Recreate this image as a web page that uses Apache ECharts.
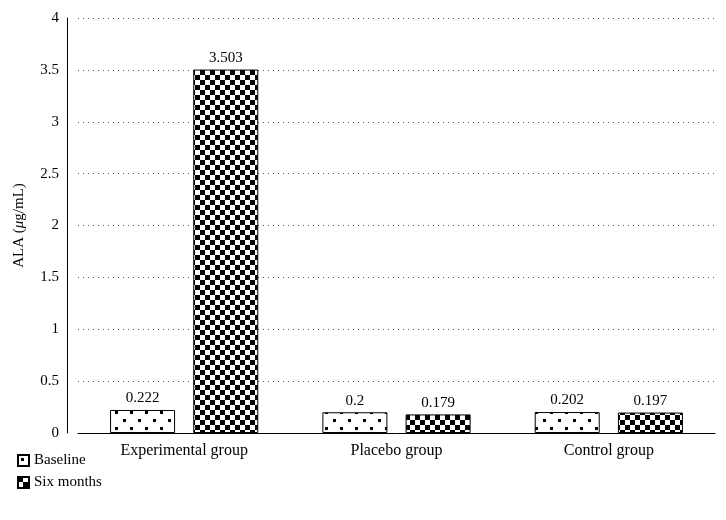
<!DOCTYPE html>
<html><head><meta charset="utf-8">
<script src="https://cdn.jsdelivr.net/npm/echarts@6/dist/echarts.min.js"></script>
<style>body{margin:0}#c{width:726px;height:520px}</style></head>
<body><div id="c"></div>
<script>
var categories = ['Experimental group', 'Placebo group', 'Control group'];
var baseline = [0.222, 0.2, 0.202];
var sixMonths = [3.503, 0.179, 0.197];

function dots() {
    var c = document.createElement('canvas'); c.width = 30; c.height = 16;
    var g = c.getContext('2d');
    g.fillStyle = '#fff'; g.fillRect(0, 0, 30, 16);
    g.fillStyle = '#000';
    g.fillRect(3, 3, 3, 3); g.fillRect(18, 3, 3, 3);
    g.fillRect(10, 11, 3, 3); g.fillRect(25, 11, 3, 3);
    return c;
}
function checker() {
    var c = document.createElement('canvas'); c.width = 10; c.height = 10;
    var g = c.getContext('2d');
    g.fillStyle = '#fff'; g.fillRect(0, 0, 10, 10);
    g.fillStyle = '#000'; g.fillRect(0, 0, 5, 5); g.fillRect(5, 5, 5, 5);
    return c;
}
var font = 'Liberation Serif';
var myChart = echarts.init(document.getElementById('c'));
var lbl = {show: true, position: 'top', color: '#000', fontFamily: font, fontSize: 15, distance: 4};
var option = {
    animation: false,
    backgroundColor: '#fff',
    textStyle: {fontFamily: font},
    grid: {left: 78, right: 11, top: 18, bottom: 87},
    legend: {
        orient: 'vertical', left: 12, top: 448, itemWidth: 11, itemHeight: 11, itemGap: 7,
        icon: 'rect', textStyle: {fontFamily: font, fontSize: 15, color: '#000'},
        data: ['Baseline', 'Six months']
    },
    xAxis: {
        type: 'category', data: categories,
        axisLine: {lineStyle: {color: '#000'}}, axisTick: {show: false},
        axisLabel: {color: '#000', fontSize: 16, fontFamily: font, margin: 10}
    },
    yAxis: {
        type: 'value', min: 0, max: 4, interval: 0.5, offset: 11,
        name: '{a|ALA (}{b|μ}{a|g/mL)}', nameLocation: 'middle', nameGap: 40, nameRotate: 90,
        nameTextStyle: {rich: {a: {fontFamily: font, fontSize: 15, color: '#000'}, b: {fontFamily: font, fontSize: 15, fontStyle: 'italic', color: '#000'}}},
        axisLine: {show: true, lineStyle: {color: '#000'}}, axisTick: {show: false},
        axisLabel: {color: '#000', fontSize: 15, fontFamily: font, margin: 8},
        splitLine: {lineStyle: {color: '#555', type: [1, 4]}}
    },
    series: [
        {name: 'Baseline', type: 'bar', data: baseline, barWidth: 65, barGap: '28%',
         itemStyle: {color: {image: dots(), repeat: 'repeat'}, borderColor: '#000', borderWidth: 1},
         label: lbl},
        {name: 'Six months', type: 'bar', data: sixMonths, barWidth: 65,
         itemStyle: {color: {image: checker(), repeat: 'repeat'}, borderColor: '#000', borderWidth: 1},
         label: lbl}
    ]
};
myChart.setOption(option);
</script></body></html>
